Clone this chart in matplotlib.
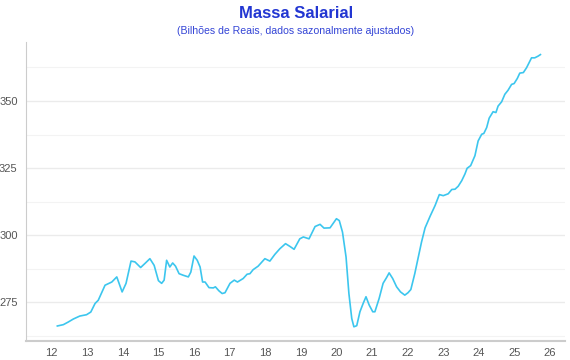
import numpy as np
import matplotlib
matplotlib.use('Agg')
import matplotlib.pyplot as plt

# decimal year (2-digit) and wage mass
anos = [12.16, 12.33, 12.47, 12.61, 12.79, 12.98, 13.10, 13.22, 13.31, 13.50,
        13.69, 13.83, 13.98, 14.09, 14.23, 14.34, 14.50, 14.62, 14.76, 14.88,
        15.00, 15.09, 15.16, 15.23, 15.32, 15.40, 15.48, 15.58, 15.70, 15.84,
        15.91, 16.00, 16.09, 16.17, 16.24, 16.31, 16.42, 16.54, 16.60, 16.70,
        16.79, 16.87, 17.01, 17.13, 17.22, 17.38, 17.49, 17.57, 17.66, 17.80,
        17.99, 18.13, 18.27, 18.41, 18.57, 18.69, 18.81, 18.97, 19.07, 19.23,
        19.40, 19.54, 19.65, 19.82, 20.00, 20.08, 20.17, 20.27, 20.35, 20.43,
        20.49, 20.57, 20.66, 20.75, 20.83, 20.92, 21.02, 21.08, 21.20, 21.31,
        21.41, 21.48, 21.58, 21.69, 21.80, 21.92, 22.01, 22.09, 22.20, 22.29,
        22.39, 22.49, 22.63, 22.77, 22.89, 23.00, 23.14, 23.24, 23.33, 23.42,
        23.52, 23.61, 23.67, 23.77, 23.89, 23.98, 24.08, 24.14, 24.22, 24.29,
        24.40, 24.48, 24.54, 24.64, 24.73, 24.82, 24.92, 24.99, 25.08, 25.15,
        25.25, 25.34, 25.48, 25.57, 25.66, 25.73]
massa = [266.1, 266.6, 267.6, 268.7, 269.8, 270.3, 271.3, 274.5, 275.7, 281.3,
         282.5, 284.4, 278.8, 282.0, 290.3, 290.0, 287.9, 289.4, 291.2, 288.7,
         283.0, 282.0, 283.2, 290.6, 288.1, 289.6, 288.4, 285.6, 285.0, 284.4,
         286.2, 292.2, 290.6, 288.1, 282.5, 282.5, 280.4, 280.3, 280.7, 279.2,
         278.2, 278.5, 282.0, 283.2, 282.5, 283.8, 285.4, 285.6, 287.1, 288.4,
         291.2, 290.3, 292.8, 294.9, 296.8, 295.8, 294.7, 298.6, 299.3, 298.6,
         303.2, 304.0, 302.6, 302.7, 306.1, 305.4, 301.1, 291.8, 278.2, 268.9,
         265.8, 266.2, 271.4, 274.5, 277.0, 273.9, 271.4, 271.4, 276.4, 282.0,
         284.2, 285.9, 283.8, 280.7, 278.8, 277.6, 278.5, 279.7, 285.6, 291.2,
         297.4, 302.7, 307.0, 311.0, 315.1, 314.7, 315.4, 317.0, 317.1, 318.2,
         320.3, 322.8, 324.9, 325.9, 329.6, 335.1, 337.6, 337.9, 340.1, 343.6,
         346.0, 345.7, 348.1, 349.7, 352.5, 354.0, 356.2, 356.5, 358.4, 360.4,
         360.6, 362.4, 366.1, 366.1, 366.7, 367.3]
xticks = list(range(12, 27))
yticks = [275, 300, 325, 350]

plt.rcParams['font.family'] = ['Liberation Sans', 'DejaVu Sans']

fig = plt.figure(figsize=(5.7, 3.6), dpi=100)
ax = fig.add_axes([26/570, 1 - 341/360, (565 - 26)/570, (341 - 42)/360])

ax.plot(anos, massa, color='#3cc6ee', lw=1.2)

ax.set_xlim(11.28, 26.42)
ax.set_ylim(260.5, 372.0)
ax.set_xticks(xticks)
ax.set_xticklabels([str(t) for t in xticks])
ax.set_yticks(yticks)
ax.set_yticks(np.arange(262.5, 372, 25), minor=True)
ax.grid(axis='y', which='major', color='#ebebeb', lw=1.0)
ax.grid(axis='y', which='minor', color='#f3f3f3', lw=0.8)
ax.set_axisbelow(True)
ax.tick_params(axis='both', which='both', length=0, labelsize=8, colors='#555555', pad=6)
ax.tick_params(axis='x', pad=5)

for s in ['top', 'right']:
    ax.spines[s].set_visible(False)
ax.spines['left'].set_color('#cccccc')
ax.spines['left'].set_linewidth(0.8)
ax.spines['bottom'].set_color('#cccccc')
ax.spines['bottom'].set_linewidth(1.5)

fig.text(296/570, 1 - 13/360, 'Massa Salarial', ha='center', va='center',
         fontsize=12, fontweight='bold', color='#2236d2')
fig.text(296/570, 1 - 31/360, '(Bilhões de Reais, dados sazonalmente ajustados)',
         ha='center', va='center', fontsize=7.6, color='#3445d6')

fig.savefig('out.png', dpi=100)
